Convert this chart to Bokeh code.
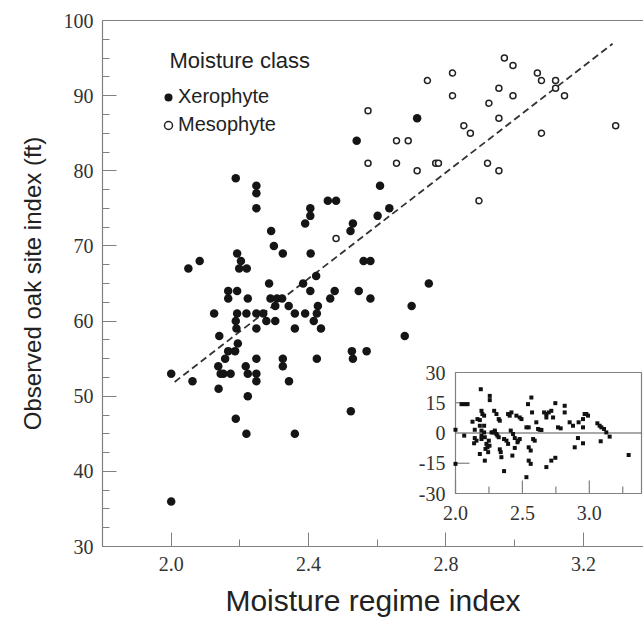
from bokeh.plotting import figure
from bokeh.models import (Range1d, LinearAxis, FixedTicker, Legend, LegendItem,
                          Label, Title, PrintfTickFormatter)
from bokeh.core.properties import value
from bokeh.embed import file_html
from bokeh.resources import INLINE

# ---------------- data ----------------
xero_x = [2.54, 2.716, 2.188, 2.248, 2.608, 2.248, 2.456, 2.48, 2.248, 2.405, 2.635,
          2.405, 2.601, 2.39, 2.529, 2.291, 2.522, 2.299, 2.192, 2.325, 2.406, 2.083,
          2.203, 2.56, 2.58, 2.05, 2.198, 2.22, 2.422, 2.285, 2.384, 2.75, 2.166, 2.192,
          2.405, 2.476, 2.546, 2.166, 2.223, 2.289, 2.308, 2.323, 2.463, 2.58, 2.303,
          2.342, 2.427, 2.70, 2.125, 2.192, 2.219, 2.248, 2.268, 2.36, 2.39, 2.424,
          2.188, 2.277, 2.303, 2.415, 2.19, 2.248, 2.36, 2.436, 2.14, 2.68, 2.194,
          2.166, 2.186, 2.526, 2.569, 2.157, 2.248, 2.325, 2.424, 2.529, 2.137, 2.217,
          2.325, 2.0, 2.144, 2.152, 2.173, 2.223, 2.248, 2.062, 2.248, 2.343, 2.138,
          2.223, 2.523, 2.188, 2.219, 2.36, 2.0]
xero_y = [84, 87, 79, 78, 78, 77, 76, 76, 75, 75, 75,
          74, 74, 73, 73, 72, 72, 70, 69, 69, 69, 68,
          68, 68, 68, 67, 67, 67, 66, 65, 65, 65, 64, 64,
          64, 64, 64, 63, 63, 63, 63, 63, 63, 63, 62,
          62, 62, 62, 61, 61, 61, 61, 61, 61, 61, 61,
          60, 60, 60, 60, 59, 59, 59, 59, 58, 58, 57,
          56, 56, 56, 56, 55, 55, 55, 55, 55, 54, 54,
          54, 53, 53, 53, 53, 53, 53, 52, 52, 52, 51,
          50, 48, 47, 45, 45, 36]

meso_x = [2.48, 2.573, 2.573, 2.656, 2.69, 2.656, 2.716, 2.77, 2.778, 2.746, 2.819,
          2.819, 2.852, 2.871, 2.896, 2.925, 2.954, 2.954, 2.921, 2.954, 2.97, 2.995,
          2.995, 3.066, 3.078, 3.078, 3.119, 3.119, 3.145, 3.294]
meso_y = [71, 88, 81, 84, 84, 81, 80, 81, 81, 92, 93,
          90, 86, 85, 76, 89, 91, 87, 81, 80, 95, 94,
          90, 93, 92, 85, 92, 91, 90, 86]

fit_x = [2.01, 3.285]
fit_y = [51.9, 96.9]

resid_x = [2.0, 2.0, 2.045, 2.07, 2.09, 2.065, 2.127, 2.144, 2.144, 2.139, 2.157, 2.164,
           2.182, 2.182, 2.194, 2.194, 2.194, 2.189, 2.194, 2.201, 2.182, 2.214, 2.214,
           2.214, 2.219, 2.231, 2.224, 2.219, 2.239, 2.244, 2.249, 2.254, 2.256, 2.256,
           2.269, 2.281, 2.294, 2.306, 2.289, 2.306, 2.323, 2.331, 2.294, 2.313, 2.323,
           2.331, 2.338, 2.343, 2.363, 2.363, 2.381, 2.393, 2.393, 2.405, 2.418, 2.455,
           2.413, 2.43, 2.443, 2.463, 2.425, 2.443, 2.468, 2.48, 2.48, 2.493, 2.53,
           2.547, 2.53, 2.542, 2.547, 2.562, 2.547, 2.562, 2.567, 2.572, 2.58, 2.592,
           2.604, 2.617, 2.629, 2.642, 2.662, 2.679, 2.679, 2.679, 2.697, 2.716, 2.729,
           2.716, 2.746, 2.746, 2.766, 2.786, 2.816, 2.816, 2.853, 2.878, 2.891, 2.92,
           2.953, 2.953, 2.965, 2.915, 2.953, 2.978, 2.99, 3.06, 3.077, 3.09, 3.085,
           3.11, 3.127, 3.152, 3.294]
resid_y = [1.6, -15.3, 14.3, 14.3, 14.3, -1.3, 5.6, 1.6, -2.5, -5.1, -3.8, 6.9,
           6.4, 3.6, 1.2, -1.3, -3.0, 21.7, 11.0, 9.4, -10.4, 8.6, 3.6,
           0.3, -2.1, -5.4, -7.9, -13.7, -7.1, -9.5, -3.8, -6.3, 18.4, 16.3,
           0.3, 0.3, 0.3, -0.5, 11.0, 9.4, 6.9, 6.1, 1.2, -1.3, -2.1,
           -8.1, -9.5, -12.0, -18.9, -3.0, -3.8, -5.4, 9.4, 8.6, 10.2, 8.6,
           1.2, -0.5, -2.5, -4.6, -11.2, -7.4, -3.8, -3.0, 7.7, 6.9, 2.8,
           2.8, -21.9, 14.3, -13.7, -15.3, -7.1, -8.7, 17.6, 10.2, -3.0, -3.8,
           5.3, 2.0, 1.6, 1.5, 10.2, 9.4, 7.7, -16.9, 10.2, 11.0, 7.7,
           -13.7, -12.3, 14.8, 2.8, 2.3, 13.5, 10.2, 5.3, 3.6, -7.1, 5.3,
           6.9, 2.8, 9.4, -2.5, -5.1, 9.4, 8.6, 4.8, 3.6, 2.8, -4.1,
           2.0, 0.3, -1.8, -10.9]

x_ticks = [2.0, 2.4, 2.8, 3.2]
x_minor = [1.8, 2.2, 2.6, 3.0]
y_ticks = [30, 40, 50, 60, 70, 80, 90, 100]
y_minor = [32.5, 35, 37.5, 42.5, 45, 47.5, 52.5, 55, 57.5, 62.5, 65, 67.5,
           72.5, 75, 77.5, 82.5, 85, 87.5, 92.5, 95, 97.5]

inset_x_ticks = [2.0, 2.5, 3.0]
inset_x_labels = ["2.0", "2.5", "3.0"]
inset_x_minor = [2.25, 2.75, 3.25]
inset_y_ticks = [30, 15, 0, -15, -30]
inset_y_labels = ["30", "15", "0", "-15", "-30"]
inset_y_inner = [15, -15]
inset_xr = (2.0, 3.39)
inset_yr = (-30.0, 30.0)

x_title = "Moisture regime index"
y_title = "Observed oak site index (ft)"
legend_title = "Moisture class"

# ---------------- layout ----------------
W, H = 643, 620
BL, BR, BT, BB = 102, 0, 20, 74
FL, FR, FT, FB = BL, W - BR, BT, H - BB

SERIF = "Liberation Serif"
SANS = "Liberation Sans"
AXC = "#808080"
TXT = "#222222"

p = figure(width=W, height=H, x_range=Range1d(1.8, 3.375), y_range=Range1d(30, 100),
           output_backend="svg", toolbar_location=None,
           min_border_left=BL, min_border_right=BR, min_border_top=BT, min_border_bottom=BB)
p.grid.visible = False
p.outline_line_color = None
p.background_fill_color = "white"
p.border_fill_color = "white"

p.xaxis.ticker = FixedTicker(ticks=x_ticks, minor_ticks=x_minor)
p.yaxis.ticker = FixedTicker(ticks=y_ticks, minor_ticks=y_minor)
p.xaxis.formatter = PrintfTickFormatter(format="%.1f")
for ax in (p.xaxis, p.yaxis):
    ax.major_tick_in = 14
    ax.major_tick_out = 0
    ax.minor_tick_in = 7
    ax.minor_tick_out = 0
    ax.axis_line_color = AXC
    ax.major_tick_line_color = AXC
    ax.minor_tick_line_color = AXC
    ax.axis_line_width = 1.2
    ax.major_label_text_font = SERIF
    ax.major_label_text_font_size = "20px"
    ax.major_label_text_color = "#333333"
p.yaxis.major_label_standoff = 9
p.xaxis.major_label_standoff = 10
p.xaxis.axis_label = x_title
p.xaxis.axis_label_text_font = SANS
p.xaxis.axis_label_text_font_size = "30px"
p.xaxis.axis_label_text_font_style = "normal"
p.xaxis.axis_label_text_color = TXT
p.xaxis.axis_label_standoff = 10

top_axis = LinearAxis(ticker=FixedTicker(ticks=[]), axis_line_color=AXC, axis_line_width=1.2,
                      major_tick_line_color=None, minor_tick_line_color=None,
                      major_label_text_font_size="0px")
p.add_layout(top_axis, "above")

ytitle = Title(text=y_title, align="center", offset=31, text_font=SANS,
               text_font_size="24px", text_font_style="normal", text_color=TXT, standoff=30)
p.add_layout(ytitle, "left")

# main marks
p.line(fit_x, fit_y, line_dash="7 4", line_width=1.8, line_color="#333333")
r_xero = p.scatter(xero_x, xero_y, marker="circle", size=8.5, fill_color="#151515", line_color=None)
r_meso = p.scatter(meso_x, meso_y, marker="circle", size=6, fill_color="white",
                   line_color="#222222", line_width=1.5)

legend = Legend(items=[LegendItem(label="Xerophyte", renderers=[r_xero]),
                       LegendItem(label="Mesophyte", renderers=[r_meso])],
                location=(56, 410), glyph_width=20, glyph_height=20, label_standoff=0,
                spacing=5, padding=0, margin=0, border_line_color=None,
                background_fill_alpha=0, label_text_font=SANS, label_text_font_size="20px",
                label_text_color=TXT)
p.add_layout(legend)
p.add_layout(Label(x=67, y=FB - 60, x_units="screen", y_units="screen", text=legend_title,
                   text_font=SANS, text_font_size="22px", text_baseline="middle", text_color=TXT))

# ---------------- inset (placed through extra ranges) ----------------
IL, IR, IT, IB = 455, 641, 372, 493
sx = (IR - IL) / (inset_xr[1] - inset_xr[0])
sy = (IB - IT) / (inset_yr[1] - inset_yr[0])
p.extra_x_ranges = {"ix": Range1d(inset_xr[0] - (IL - FL) / sx, inset_xr[1] + (FR - IR) / sx)}
p.extra_y_ranges = {"iy": Range1d(inset_yr[0] - (FB - IB) / sy, inset_yr[1] + (IT - FT) / sy)}
kw = dict(x_range_name="ix", y_range_name="iy")

p.quad(left=inset_xr[0], right=inset_xr[1], bottom=inset_yr[0], top=inset_yr[1],
       fill_color="white", line_color=AXC, line_width=1.2, **kw)
p.segment(x0=inset_xr[0], x1=inset_xr[1], y0=0, y1=0, line_color="#555555", line_width=1.2, **kw)
p.segment(x0=inset_x_ticks, x1=inset_x_ticks, y0=[inset_yr[0]] * 3,
          y1=[inset_yr[0] + 13 / sy] * 3, line_color=AXC, line_width=1.2, **kw)
p.segment(x0=inset_x_minor, x1=inset_x_minor, y0=[inset_yr[0]] * 3,
          y1=[inset_yr[0] + 7 / sy] * 3, line_color=AXC, line_width=1.2, **kw)
p.segment(x0=[inset_xr[0]] * 2, x1=[inset_xr[0] + 14 / sx] * 2, y0=inset_y_inner,
          y1=inset_y_inner, line_color=AXC, line_width=1.2, **kw)
p.text(x=inset_x_ticks, y=[inset_yr[0]] * 3, text=inset_x_labels, text_align="center",
       text_baseline="middle", y_offset=19, text_font=value(SERIF), text_font_size="20px",
       text_color="#333333", **kw)
p.text(x=[inset_xr[0]] * 5, y=inset_y_ticks, text=inset_y_labels, text_align="right",
       text_baseline="middle", x_offset=-10, text_font=value(SERIF), text_font_size="20px",
       text_color="#333333", **kw)
p.scatter(resid_x, resid_y, marker="square", size=4, fill_color="#111111", line_color=None, **kw)

open("out.html", "w").write(file_html(p, INLINE))
